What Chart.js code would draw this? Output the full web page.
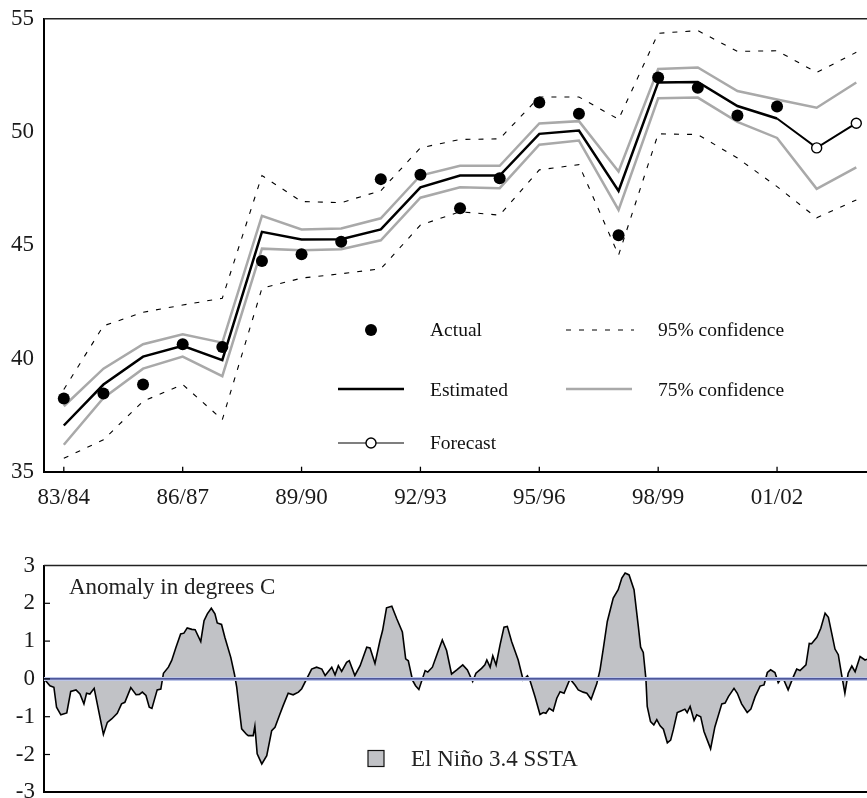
<!DOCTYPE html>
<html>
<head>
<meta charset="utf-8">
<script src="https://cdn.jsdelivr.net/npm/chart.js@4.4.4/dist/chart.umd.min.js"></script>
<style>
  html, body { margin: 0; padding: 0; background: #fff; }
  #wrap { position: relative; width: 867px; height: 798px; overflow: hidden; }
  #topChart { position: absolute; left: 0; top: 0; }
  #bottomChart { position: absolute; left: 0; top: 530px; }
</style>
</head>
<body>
<div id="wrap">
  <canvas id="topChart" width="867" height="530" style="width:867px;height:530px"></canvas>
  <canvas id="bottomChart" width="867" height="268" style="width:867px;height:268px"></canvas>
</div>
<script>
// crop years, one point per season
const seasons = ['83/84','84/85','85/86','86/87','87/88','88/89','89/90','90/91','91/92','92/93',
  '93/94','94/95','95/96','96/97','97/98','98/99','99/00','00/01','01/02','02/03','03/04'];
const seasonTicks = [0, 3, 6, 9, 12, 15, 18];

const actual    = [38.23, 38.45, 38.85, 40.63, 40.51, 44.30, 44.60, 45.15, 47.92, 48.11,
                   46.63, 47.96, 51.30, 50.81, 45.44, 52.41, 51.96, 50.73, 51.13, null, null];
const estimated = [37.04, 38.85, 40.08, 40.56, 39.93, 45.59, 45.25, 45.27, 45.70, 47.56,
                   48.08, 48.08, 49.92, 50.07, 47.40, 52.19, 52.21, 51.15, 50.60, null, null];
const forecastIdx = [18, 19, 20];
const forecast    = [50.60, 49.30, 50.39];
const upper75 = [37.89, 39.55, 40.63, 41.07, 40.70, 46.30, 45.70, 45.74, 46.19, 48.08,
                 48.51, 48.51, 50.38, 50.48, 48.26, 52.78, 52.85, 51.81, 51.44, 51.07, 52.19];
const lower75 = [36.19, 38.26, 39.55, 40.08, 39.22, 44.85, 44.78, 44.82, 45.22, 47.10,
                 47.56, 47.52, 49.44, 49.62, 46.56, 51.49, 51.52, 50.45, 49.74, 47.49, 48.44];
const upper95 = [38.63, 41.44, 42.04, 42.36, 42.66, 48.08, 46.93, 46.88, 47.41, 49.30,
                 49.67, 49.70, 51.55, 51.55, 50.56, 54.36, 54.48, 53.56, 53.59, 52.63, 53.52];
const lower95 = [35.59, 36.41, 38.11, 38.85, 37.30, 43.10, 43.55, 43.74, 43.96, 45.89,
                 46.48, 46.33, 48.33, 48.56, 44.56, 49.92, 49.89, 48.85, 47.59, 46.21, 47.00];
const topYTicks = [35, 40, 45, 50, 55];

// El Nino 3.4 SST anomaly, month index from start of record
const ninoMonth = [
  0, 1.8, 3.0, 3.8, 5.1, 6.9, 8.1, 9.7, 10.9, 12.1,
  12.9, 13.9, 15.2, 18.0, 19.2, 20.5, 22.2, 23.5, 24.5, 26.3,
  27.9, 28.9, 29.8, 30.9, 31.9, 32.7, 34.3, 35.4, 36.2, 37.7,
  38.7, 40.0, 41.4, 42.4, 43.4, 44.8, 45.8, 47.5, 48.5, 49.5,
  50.7, 51.8, 52.5, 53.8, 54.8, 56.6, 57.7, 58.4, 59.1, 59.9,
  61.4, 61.9, 63.4, 63.9, 64.6, 66.0, 67.5, 69.0, 70.0, 71.5,
  72.5, 74.0, 75.5, 77.1, 78.1, 79.6, 81.1, 82.6, 84.2, 85.2,
  87.2, 88.2, 89.2, 90.2, 91.7, 92.5, 94.2, 95.8, 97.8, 98.8,
  100.3, 101.8, 102.6, 103.8, 105.4, 106.9, 108.6, 109.6, 110.4, 111.7,
  112.6, 113.6, 115.5, 116.3, 117.7, 119.3, 120.7, 122.0, 123.5, 125.1,
  126.9, 128.3, 129.9, 130.9, 132.6, 133.6, 134.2, 135.2, 136.0, 137.0,
  138.2, 139.4, 140.4, 141.7, 143.7, 145.2, 146.5, 147.3, 148.8, 150.3,
  151.3, 152.1, 153.1, 154.3, 155.4, 156.4, 157.6, 159.4, 160.9, 161.9,
  163.4, 164.5, 165.8, 167.5, 168.5, 169.5, 170.7, 172.5, 174.0, 175.1,
  176.1, 177.3, 178.8, 180.1, 180.8, 181.6, 182.4, 182.8, 183.8, 184.8,
  185.7, 186.7, 187.7, 188.9, 189.9, 190.7, 191.9, 193.2, 194.2, 194.9,
  195.8, 197.0, 197.8, 199.0, 200.0, 201.0, 202.0, 203.3, 205.4, 206.4,
  207.4, 209.1, 210.1, 211.4, 213.1, 214.2, 215.5, 217.0, 218.2, 219.2,
  220.2, 221.5, 222.5, 223.5, 224.2, 225.5, 227.1, 228.1, 229.1, 230.9,
  231.9, 232.6, 234.2, 235.4, 236.7, 237.7, 238.7, 239.7, 240.7, 241.7,
  242.7, 243.7, 244.8, 245.8, 247.3, 248.8, 249.4];
const ninoAnomaly = [
  0, -0.18, -0.22, -0.75, -0.95, -0.90, -0.33, -0.29, -0.40, -0.66,
  -0.38, -0.40, -0.25, -1.47, -1.15, -1.06, -0.91, -0.66, -0.62, -0.23,
  -0.42, -0.41, -0.35, -0.44, -0.75, -0.78, -0.29, -0.27, 0.15, 0.31,
  0.49, 0.84, 1.19, 1.21, 1.35, 1.31, 1.30, 0.99, 1.54, 1.72,
  1.87, 1.72, 1.48, 1.44, 1.10, 0.57, 0.13, -0.22, -0.75, -1.32,
  -1.47, -1.50, -1.50, -1.25, -1.98, -2.25, -2.03, -1.37, -1.28, -0.93,
  -0.70, -0.38, -0.42, -0.35, -0.26, 0, 0.26, 0.31, 0.26, 0.09,
  0.31, 0.11, 0.35, 0.20, 0.44, 0.48, 0.09, 0.35, 0.84, 0.82,
  0.41, 1.01, 1.28, 1.88, 1.92, 1.59, 1.24, 0.53, 0.48, -0.04,
  -0.18, -0.28, 0.22, 0.18, 0.31, 0.70, 1.03, 0.75, 0.13, 0.24,
  0.37, 0.24, -0.07, 0.15, 0.28, 0.37, 0.50, 0.31, 0.61, 0.37,
  0.90, 1.37, 1.39, 0.99, 0.50, -0.03, 0.08, -0.05, -0.47, -0.94,
  -0.89, -0.91, -0.78, -0.85, -0.51, -0.34, -0.38, 0, -0.16, -0.29,
  -0.35, -0.38, -0.54, -0.13, 0.24, 0.81, 1.52, 2.14, 2.36, 2.67,
  2.80, 2.75, 2.36, 1.39, 0.84, 0.70, 0, -0.73, -1.13, -1.22,
  -1.08, -1.24, -1.33, -1.69, -1.62, -1.35, -0.89, -0.84, -0.80, -0.89,
  -0.73, -1.10, -0.95, -1.00, -1.39, -1.62, -1.85, -1.27, -0.66, -0.64,
  -0.47, -0.25, -0.38, -0.66, -0.89, -0.80, -0.47, -0.19, -0.16, 0.17,
  0.24, 0.17, -0.10, 0.02, -0.03, -0.29, 0.06, 0.26, 0.22, 0.37,
  0.94, 0.93, 1.10, 1.34, 1.74, 1.63, 1.21, 0.79, 0.64, 0.11,
  -0.38, 0.15, 0.34, 0.19, 0.59, 0.50, 0.52];
const ninoRange = [0, 249.4];

const SERIF = '"Liberation Serif", "Times New Roman", serif';
Chart.defaults.font.family = SERIF;
Chart.defaults.color = '#1a1a1a';

function pts(arr) {
  return arr.map((v, i) => ({ x: i, y: v }));
}

// keep the plot area fixed: no extra room for half tick labels
function fixWidth(w) {
  return s => { s.width = w; s.paddingTop = 0; s.paddingBottom = 0; };
}

// top border, inner x ticks and the legend block of the upper panel
const topDecor = {
  id: 'topDecor',
  afterDraw(chart) {
    const { ctx, chartArea, scales } = chart;
    ctx.save();
    ctx.strokeStyle = '#222';
    ctx.lineWidth = 1.5;
    ctx.beginPath();
    ctx.moveTo(chartArea.left, chartArea.top);
    ctx.lineTo(chartArea.right, chartArea.top);
    ctx.stroke();

    ctx.strokeStyle = '#000';
    ctx.lineWidth = 1.3;
    seasonTicks.forEach(t => {
      const x = scales.x.getPixelForValue(t);
      ctx.beginPath();
      ctx.moveTo(x, chartArea.bottom);
      ctx.lineTo(x, chartArea.bottom - 5);
      ctx.stroke();
    });

    // legend
    ctx.font = '19.5px ' + SERIF;
    ctx.fillStyle = '#111';
    ctx.textBaseline = 'alphabetic';
    ctx.fillText('Actual', 430, 336);
    ctx.fillText('Estimated', 430, 395.5);
    ctx.fillText('Forecast', 430, 449);
    ctx.fillText('95% confidence', 658, 336);
    ctx.fillText('75% confidence', 658, 395.5);

    ctx.fillStyle = '#000';
    ctx.beginPath();
    ctx.arc(371, 330, 6, 0, Math.PI * 2);
    ctx.fill();

    ctx.strokeStyle = '#000';
    ctx.lineWidth = 2.5;
    ctx.beginPath();
    ctx.moveTo(338, 389);
    ctx.lineTo(404, 389);
    ctx.stroke();

    ctx.lineWidth = 1.2;
    ctx.beginPath();
    ctx.moveTo(338, 443);
    ctx.lineTo(404, 443);
    ctx.stroke();
    ctx.fillStyle = '#fff';
    ctx.lineWidth = 1.4;
    ctx.beginPath();
    ctx.arc(371, 443, 5, 0, Math.PI * 2);
    ctx.fill();
    ctx.stroke();

    ctx.lineWidth = 1.1;
    ctx.setLineDash([5, 8]);
    ctx.beginPath();
    ctx.moveTo(566, 330);
    ctx.lineTo(634, 330);
    ctx.stroke();
    ctx.setLineDash([]);

    ctx.strokeStyle = '#a9a9a9';
    ctx.lineWidth = 2.5;
    ctx.beginPath();
    ctx.moveTo(566, 389);
    ctx.lineTo(632, 389);
    ctx.stroke();
    ctx.restore();
  }
};

new Chart(document.getElementById('topChart'), {
  type: 'line',
  data: {
    datasets: [
      { label: 'Actual', data: pts(actual), showLine: false, pointRadius: 6,
        pointBackgroundColor: '#000', pointBorderColor: '#000', pointBorderWidth: 0 },
      { label: 'Forecast', data: forecastIdx.map((i, k) => ({ x: i, y: forecast[k] })),
        borderColor: '#000', borderWidth: 2, pointRadius: [0, 5, 5],
        pointBackgroundColor: '#fff', pointBorderColor: '#000', pointBorderWidth: 1.4 },
      { label: 'Estimated', data: pts(estimated), borderColor: '#000', borderWidth: 2.5, pointRadius: 0 },
      { label: '75% upper', data: pts(upper75), borderColor: '#a9a9a9', borderWidth: 2.5, pointRadius: 0 },
      { label: '75% lower', data: pts(lower75), borderColor: '#a9a9a9', borderWidth: 2.5, pointRadius: 0 },
      { label: '95% upper', data: pts(upper95), borderColor: '#000', borderWidth: 1.1,
        borderDash: [5, 8], pointRadius: 0 },
      { label: '95% lower', data: pts(lower95), borderColor: '#000', borderWidth: 1.1,
        borderDash: [5, 8], pointRadius: 0 }
    ]
  },
  options: {
    responsive: false,
    animation: false,
    events: [],
    layout: { padding: { top: 18.8, left: 0, right: 0, bottom: 0 }, autoPadding: false },
    plugins: { legend: { display: false }, tooltip: { enabled: false } },
    scales: {
      x: {
        type: 'linear', min: -0.5, max: 20.27,
        afterBuildTicks: s => { s.ticks = seasonTicks.map(v => ({ value: v })); },
        afterFit: s => { s.height = 530 - 471.7; s.paddingLeft = 0; s.paddingRight = 0; },
        grid: { display: false, drawTicks: false },
        border: { display: true, color: '#000', width: 2 },
        ticks: { font: { size: 23 }, padding: 12, maxRotation: 0, autoSkip: false,
                 callback: v => seasons[v] }
      },
      y: {
        min: 35, max: 55,
        afterBuildTicks: s => { s.ticks = topYTicks.map(v => ({ value: v })); },
        afterFit: fixWidth(44),
        grid: { display: false, drawTicks: false },
        border: { display: true, color: '#000', width: 2 },
        ticks: { font: { size: 23 }, padding: 10 }
      }
    }
  },
  plugins: [topDecor]
});

// frame, inner y ticks, caption and legend of the lower panel
const bottomDecor = {
  id: 'bottomDecor',
  afterDraw(chart) {
    const { ctx, chartArea, scales } = chart;
    ctx.save();
    ctx.strokeStyle = '#222';
    ctx.lineWidth = 1.5;
    ctx.beginPath();
    ctx.moveTo(chartArea.left, chartArea.top);
    ctx.lineTo(chartArea.right, chartArea.top);
    ctx.stroke();

    ctx.strokeStyle = '#000';
    ctx.lineWidth = 1.2;
    [-2, -1, 0, 1, 2].forEach(v => {
      const y = scales.y.getPixelForValue(v);
      ctx.beginPath();
      ctx.moveTo(chartArea.left, y);
      ctx.lineTo(chartArea.left + 6, y);
      ctx.stroke();
    });

    ctx.font = '23px ' + SERIF;
    ctx.fillStyle = '#222';
    ctx.textBaseline = 'alphabetic';
    ctx.fillText('Anomaly in degrees C', 69, 63.5);
    ctx.fillText('El Niño 3.4 SSTA', 411, 235.5);

    ctx.fillStyle = '#c1c2c6';
    ctx.fillRect(368, 220.5, 16, 16);
    ctx.strokeStyle = '#111';
    ctx.lineWidth = 1.2;
    ctx.strokeRect(368, 220.5, 16, 16);
    ctx.restore();
  }
};

const zeroLine = ninoRange.map(m => ({ x: m, y: 0 }));

new Chart(document.getElementById('bottomChart'), {
  type: 'line',
  data: {
    datasets: [
      { label: 'zero', data: zeroLine, borderColor: '#2a3280', borderWidth: 1.2, pointRadius: 0 },
      { label: 'zero halo', data: zeroLine, borderColor: '#bcc5e8', borderWidth: 4, pointRadius: 0 },
      { label: 'El Niño 3.4 SSTA',
        data: ninoMonth.map((m, i) => ({ x: m, y: ninoAnomaly[i] })),
        borderColor: '#000', borderWidth: 1.6, backgroundColor: '#c1c2c6',
        fill: { value: 0 }, pointRadius: 0 }
    ]
  },
  options: {
    responsive: false,
    animation: false,
    events: [],
    layout: { padding: { top: 35.5, left: 0, right: 0, bottom: 0 }, autoPadding: false },
    plugins: { legend: { display: false }, tooltip: { enabled: false } },
    scales: {
      x: {
        type: 'linear', min: ninoRange[0], max: ninoRange[1],
        afterFit: s => { s.height = 268 - 262.3; s.paddingLeft = 0; s.paddingRight = 0; },
        grid: { display: false, drawTicks: false },
        border: { display: true, color: '#000', width: 2 },
        ticks: { display: false }
      },
      y: {
        min: -3, max: 3,
        afterFit: fixWidth(44),
        grid: { display: false, drawTicks: false },
        border: { display: true, color: '#000', width: 2 },
        ticks: { stepSize: 1, font: { size: 23 }, padding: 9 }
      }
    }
  },
  plugins: [bottomDecor]
});
</script>
</body>
</html>
